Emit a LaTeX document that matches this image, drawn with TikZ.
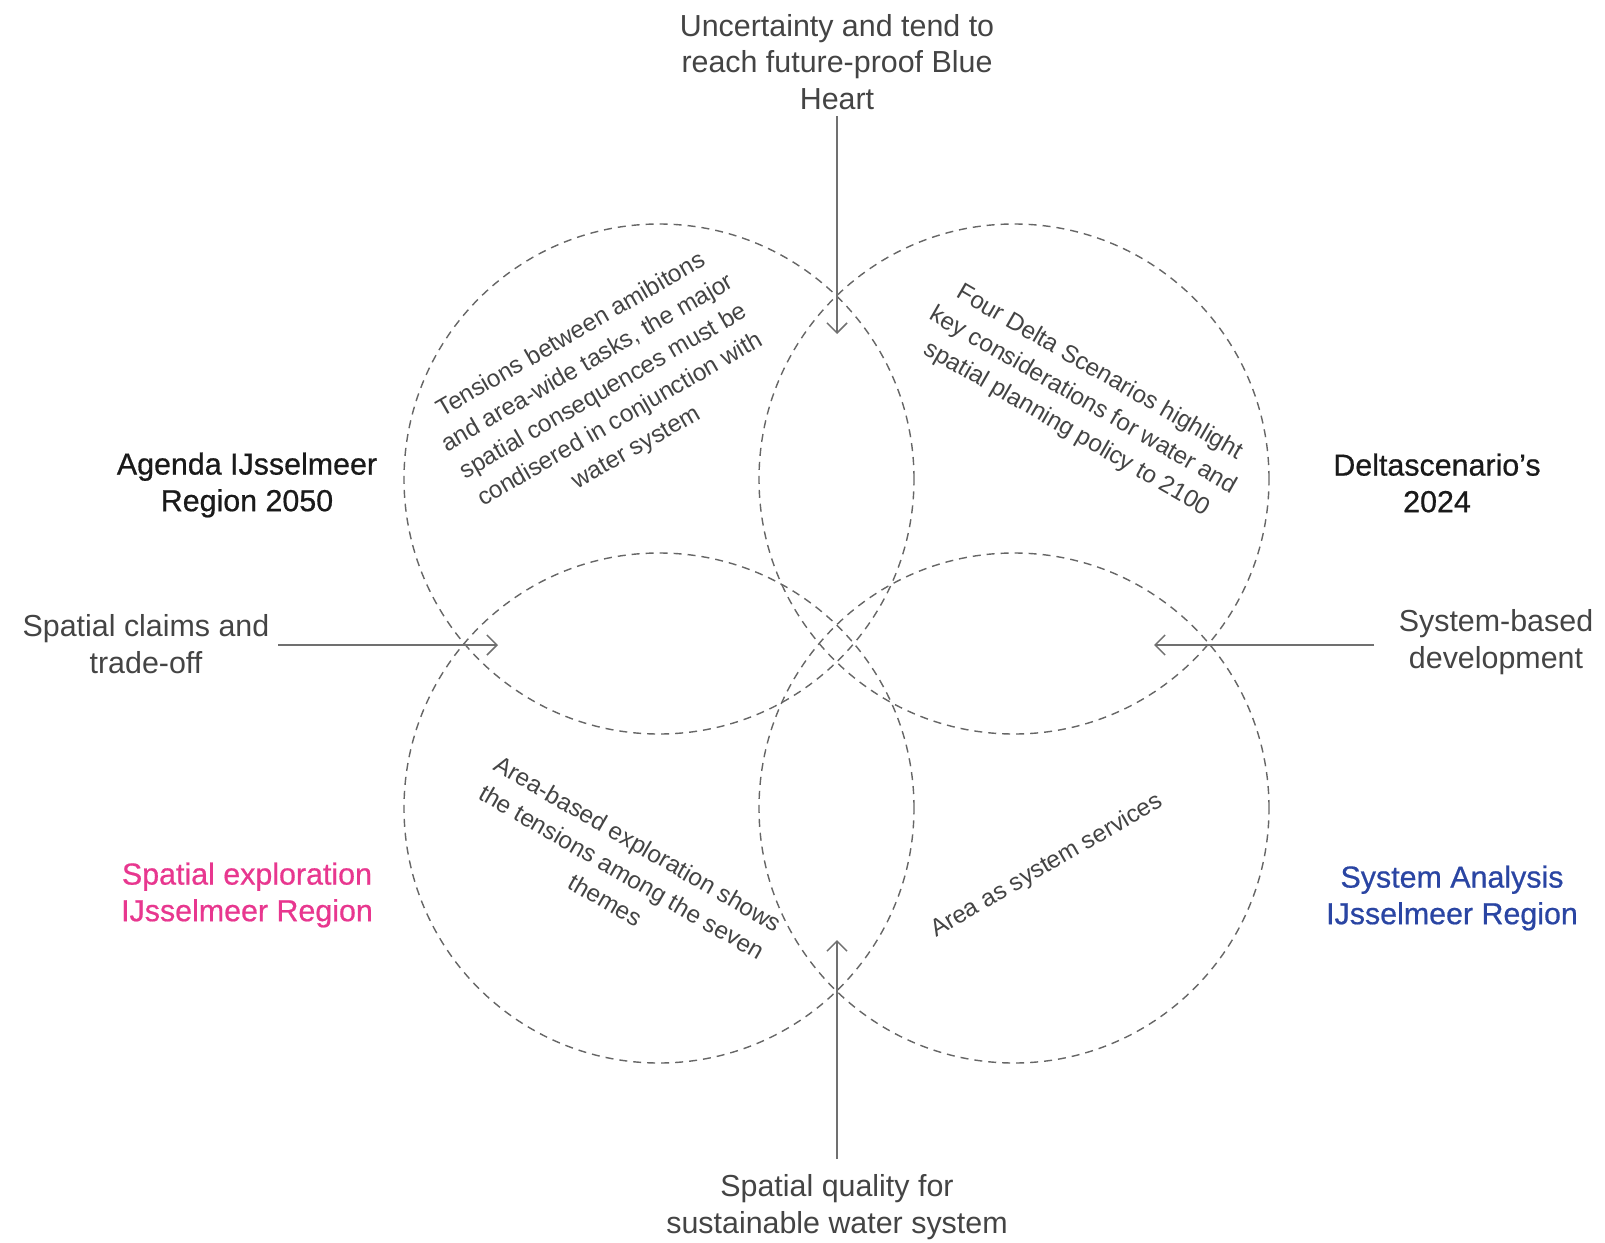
\documentclass[tikz,border=0pt]{standalone}
\usepackage{fontspec}
\setmainfont{Liberation Sans}
\usetikzlibrary{arrows.meta}
\definecolor{txt}{HTML}{444444}
\definecolor{ttl}{HTML}{1A1A1A}
\definecolor{ringc}{HTML}{666666}
\definecolor{arrc}{HTML}{707070}
\definecolor{pinkc}{HTML}{E8378F}
\definecolor{bluec}{HTML}{2A45A3}
\begin{document}
\begin{tikzpicture}[x=1pt,y=-1pt,
  ring/.style={circle, draw=ringc, line width=1.4pt, dash pattern=on 8pt off 6pt, minimum size=510pt, inner sep=0pt},
  lbl/.style={align=center, text=txt, font=\fontsize{30.4}{36.6}\selectfont, inner sep=0pt},
  ttlbl/.style={align=center, text=ttl, font=\fontsize{30.4}{36.6}\selectfont\addfontfeatures{FakeBold=0.6}, inner sep=0pt},
  rot/.style={align=center, text=txt, font=\fontsize{24.3}{32.5}\selectfont, inner sep=0pt},
  arr/.style={draw=arrc, line width=1.5pt, -{Straight Barb[length=10pt, width=20pt, line width=1.5pt]}}
]
\useasboundingbox[fill=white] (0,0) rectangle (1605,1242);

% circles
\node[ring] (c1) at (659,479) {};
\node[ring] (c2) at (1014,479) {};
\node[ring] (c3) at (659,808) {};
\node[ring] (c4) at (1014,808) {};

% outer labels
\node[lbl] (top) at (837,62) {Uncertainty and tend to\\reach future-proof Blue\\Heart};
\node[lbl] (bottom) at (837,1207) {Spatial quality for\\sustainable water system};
\node[lbl] (left) at (146,644) {Spatial claims and\\trade-off};
\node[lbl] (right) at (1496,642) {System-based\\development};

\node[ttlbl] (agenda) at (247,485) {Agenda IJsselmeer\\Region 2050};
\node[ttlbl] (delta) at (1437,483) {Deltascenario's\\2024};
\node[ttlbl, text=pinkc] (spexp) at (247,895) {Spatial exploration\\IJsselmeer Region};
\node[ttlbl, text=bluec] (sysan) at (1452,898) {System Analysis\\IJsselmeer Region};

% rotated texts
\node[rot, rotate=30] (t1) at (604,392) {Tensions between amibitons\\and area-wide tasks, the major\\spatial consequences must be\\condisered in conjunction with\\water system};
\node[rot, rotate=-30] (t2) at (1083,401) {Four Delta Scenarios highlight\\key considerations for water and\\spatial planning policy to 2100};
\node[rot, rotate=-30] (t3) at (622,872) {Area-based exploration shows\\the tensions among the seven\\themes};
\node[rot, rotate=30] (t4) at (1047,866) {Area as system services};

% arrows
\coordinate (ts) at (837,116);
\coordinate (tt) at (837,334);
\coordinate (bs) at (837,1159);
\coordinate (bt) at (837,940);
\coordinate (ls) at (278,645);
\coordinate (lt) at (498,645);
\coordinate (rs) at (1374,645);
\coordinate (rt) at (1154,645);
\draw[arr] (ts) -- (tt);
\draw[arr] (bs) -- (bt);
\draw[arr] (ls) -- (lt);
\draw[arr] (rs) -- (rt);
\end{tikzpicture}
\end{document}
